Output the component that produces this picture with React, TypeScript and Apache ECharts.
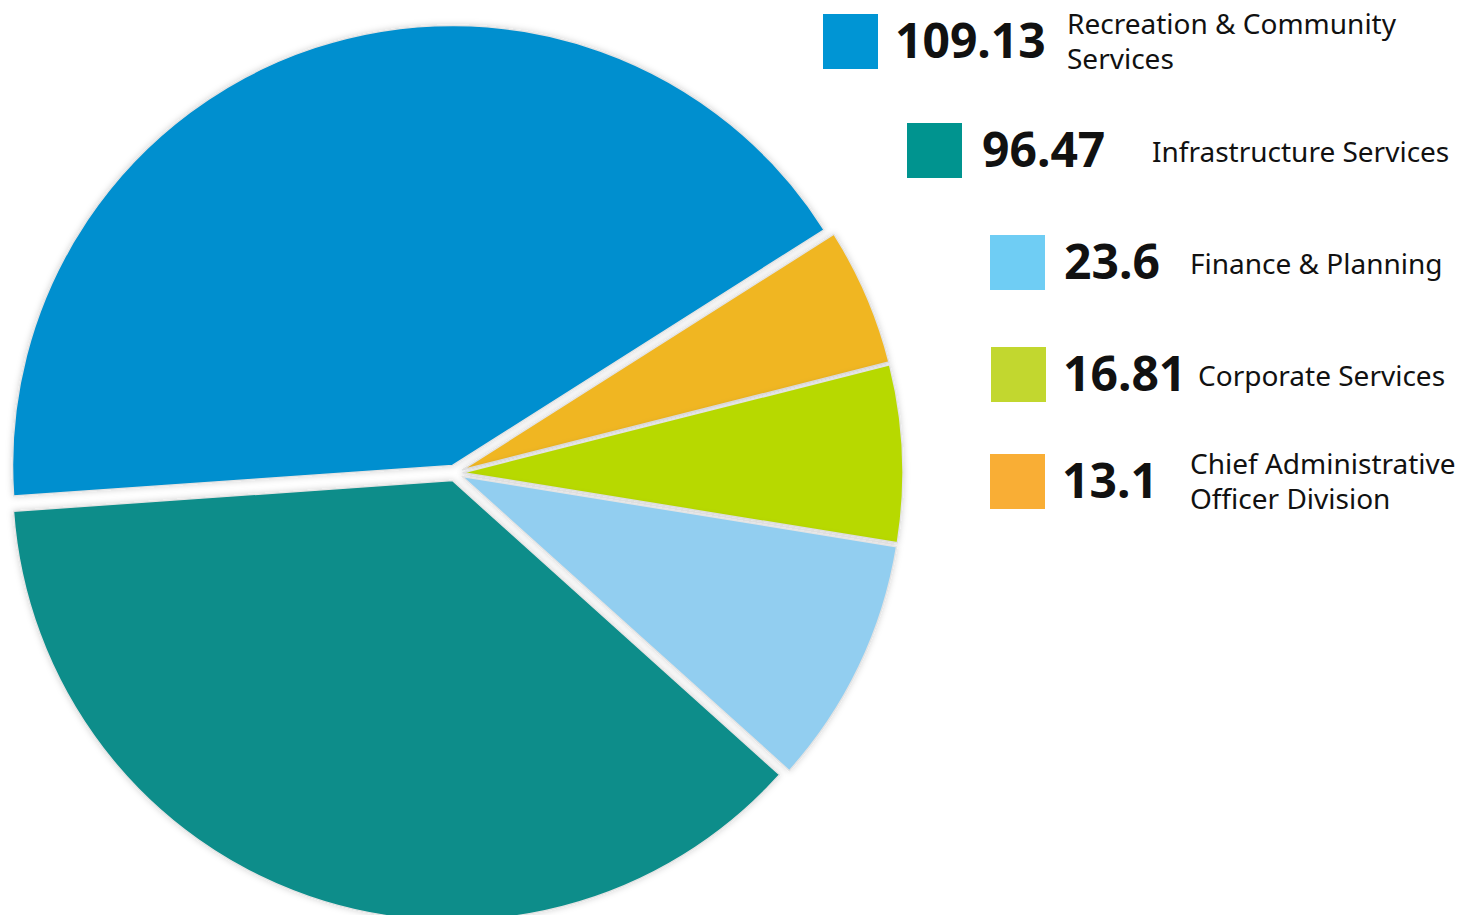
import React, { useEffect, useRef } from "react";
import * as echarts from "echarts";

// Data
const categories = [
  "Recreation & Community Services",
  "Infrastructure Services",
  "Finance & Planning",
  "Corporate Services",
  "Chief Administrative Officer Division",
];
const legendLabels = [
  "Recreation & Community\nServices",
  "Infrastructure Services",
  "Finance & Planning",
  "Corporate Services",
  "Chief Administrative\nOfficer Division",
];
const values = [109.13, 96.47, 23.6, 16.81, 13.1];
const valueLabels = ["109.13", "96.47", "23.6", "16.81", "13.1"];
// Order in which slices run clockwise around the pie (indices into categories)
const sliceOrder = [0, 4, 3, 2, 1];

// Styles
const sliceColors = ["#008fcf", "#0b8d8a", "#92cef0", "#b7d906", "#f0b622"];
const swatchColors = ["#0095d4", "#00948f", "#6fcdf4", "#c2d72f", "#f9ae35"];

// Legend layout: [swatchX, swatchY, numberX, labelX]
const legendLayout = [
  [823, 14, 895, 1067],
  [907, 123, 982, 1152],
  [990, 235, 1064, 1190],
  [991, 347, 1063, 1198],
  [990, 454, 1062, 1190],
];
const SW = 55;

export default function App() {
  const ref = useRef<HTMLDivElement>(null);
  useEffect(() => {
    document.body.style.margin = "0";
    const chart = echarts.init(ref.current!, null, { renderer: "svg" });
    const graphics: any[] = [];
    legendLayout.forEach((l, i) => {
      const [sx, sy, nx, lx] = l;
      const cy = sy + SW / 2;
      const twoLine = legendLabels[i].indexOf("\n") >= 0;
      graphics.push({
        type: "rect",
        shape: { x: sx, y: sy, width: SW, height: SW },
        style: { fill: swatchColors[i] },
      });
      graphics.push({
        type: "text",
        x: nx,
        y: cy - 2,
        style: {
          text: valueLabels[i],
          fill: "#111",
          font: "bold 48px 'Noto Sans', sans-serif",
          textAlign: "left",
          textVerticalAlign: "middle",
        },
      });
      graphics.push({
        type: "text",
        x: lx,
        y: twoLine ? cy - 1 : cy,
        style: {
          text: legendLabels[i],
          fill: "#111",
          font: "28px 'Noto Sans', sans-serif",
          lineHeight: 35,
          textAlign: "left",
          textVerticalAlign: "middle",
        },
      });
    });
    chart.setOption({
      animation: false,
      backgroundColor: "#ffffff",
      graphic: graphics,
      series: [
        {
          type: "pie",
          center: [455, 473],
          radius: 440,
          startAngle: 184,
          clockwise: true,
          selectedMode: "multiple",
          selectedOffset: 8,
          label: { show: false },
          labelLine: { show: false },
          emphasis: { disabled: true },
          itemStyle: {
            borderColor: "#e4e4e4",
            borderWidth: 1.5,
            shadowBlur: 6,
            shadowColor: "rgba(0,0,0,0.18)",
          },
          data: sliceOrder.map((i) => ({
            name: categories[i],
            value: values[i],
            selected: true,
            itemStyle: { color: sliceColors[i] },
          })),
        },
      ],
    });
    return () => chart.dispose();
  }, []);
  return <div ref={ref} style={{ width: 1460, height: 915 }} />;
}
